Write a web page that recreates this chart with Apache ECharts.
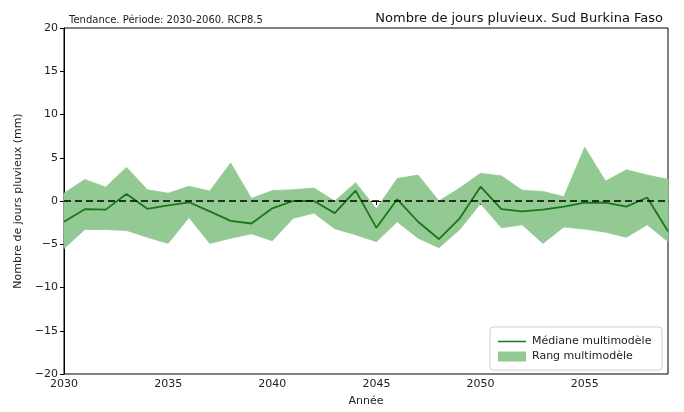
<!DOCTYPE html>
<html>
<head>
<meta charset="utf-8">
<script src="https://cdn.jsdelivr.net/npm/echarts@6/dist/echarts.min.js"></script>
<style>
html,body{margin:0;padding:0;background:#fff;}
#chart{width:684px;height:412px;}
</style>
</head>
<body>
<div id="chart"></div>
<script>
const years = [2030,2031,2032,2033,2034,2035,2036,2037,2038,2039,2040,2041,2042,2043,2044,2045,2046,2047,2048,2049,2050,2051,2052,2053,2054,2055,2056,2057,2058,2059];
const median = [-2.4,-0.95,-1.0,0.8,-0.9,-0.5,-0.15,-1.2,-2.3,-2.6,-0.85,0.0,0.0,-1.4,1.2,-3.1,0.2,-2.4,-4.4,-2.0,1.65,-0.95,-1.2,-1.0,-0.65,-0.2,-0.2,-0.65,0.4,-3.5];
const upper = [0.9,2.5,1.6,3.9,1.3,0.9,1.7,1.15,4.4,0.3,1.2,1.3,1.5,0.0,2.1,-0.9,2.6,3.0,0.0,1.5,3.2,2.9,1.25,1.1,0.5,6.2,2.3,3.6,3.0,2.5];
const lower = [-5.5,-3.3,-3.3,-3.4,-4.2,-4.9,-1.9,-4.9,-4.3,-3.8,-4.6,-2.0,-1.4,-3.2,-3.9,-4.7,-2.4,-4.3,-5.4,-3.3,-0.3,-3.1,-2.75,-4.9,-3.0,-3.25,-3.6,-4.2,-2.75,-4.7];
const yTicks = [-20,-15,-10,-5,0,5,10,15,20];
const xTicks = [2030,2035,2040,2045,2050,2055];

const bandColor = '#93c993';
const lineColor = '#1b761b';
const font = 'DejaVu Sans';

const chart = echarts.init(document.getElementById('chart'));
chart.setOption({
  animation: false,
  textStyle: {fontFamily: font},
  title: [
    {text: 'Tendance. Période: 2030-2060. RCP8.5', left: 64, top: 10,
     textStyle: {fontFamily: font, fontSize: 10, fontWeight: 'normal', color: '#222'}},
    {text: 'Nombre de jours pluvieux. Sud Burkina Faso', right: 16, top: 7,
     textStyle: {fontFamily: font, fontSize: 13, fontWeight: 'normal', color: '#111'}}
  ],
  grid: {left: 64, right: 16, top: 28, bottom: 36, show: true, borderColor: '#000', borderWidth: 1, backgroundColor: 'transparent'},
  graphic: [{
    type: 'rect', z: 50, silent: true,
    shape: {x: 490, y: 327, width: 172, height: 43, r: 3},
    style: {fill: '#fff', stroke: '#d0d0d0', lineWidth: 1}
  }],
  legend: [
    {
      left: 498, top: 336, padding: 0, itemGap: 0, itemWidth: 28, itemHeight: 1.5,
      icon: 'rect', z: 60,
      textStyle: {fontFamily: font, fontSize: 11, color: '#222', padding: [0, 0, 0, 1]},
      data: [{name: 'Médiane multimodèle', icon: 'rect', itemStyle: {color: lineColor}}]
    },
    {
      left: 498, top: 351, padding: 0, itemGap: 0, itemWidth: 28, itemHeight: 10,
      icon: 'rect', z: 60,
      textStyle: {fontFamily: font, fontSize: 11, color: '#222', padding: [0, 0, 0, 1]},
      data: [{name: 'Rang multimodèle', icon: 'rect', itemStyle: {color: bandColor}}]
    }
  ],
  xAxis: {
    type: 'value', min: 2030, max: 2059, interval: 5,
    name: 'Année', nameLocation: 'middle', nameGap: 22,
    nameTextStyle: {fontFamily: font, fontSize: 11, color: '#222'},
    axisLine: {show: true, lineStyle: {color: '#000'}},
    axisTick: {show: true, length: 4, lineStyle: {color: '#000'}},
    axisLabel: {fontFamily: font, fontSize: 11, color: '#222', showMaxLabel: false, margin: 5,
      formatter: v => (xTicks.indexOf(v) >= 0 ? String(v) : '')},
    splitLine: {show: false}
  },
  yAxis: {
    type: 'value', min: -20, max: 20, interval: 5,
    name: 'Nombre de jours pluvieux (mm)', nameLocation: 'middle', nameGap: 38,
    nameTextStyle: {fontFamily: font, fontSize: 11, color: '#222'},
    axisLine: {show: true, lineStyle: {color: '#000'}},
    axisTick: {show: true, length: 4, lineStyle: {color: '#000'}},
    axisLabel: {fontFamily: font, fontSize: 11, color: '#222', margin: 6,
      formatter: v => (yTicks.indexOf(v) >= 0 ? String(v).replace('-', '\u2212') : '')},
    splitLine: {show: false}
  },
  series: [
    {
      name: 'Rang multimodèle', type: 'custom', z: 1, silent: true,
      itemStyle: {color: bandColor},
      data: years.map((y, i) => [y, lower[i], upper[i]]),
      encode: {x: 0, y: [1, 2]},
      renderItem: function (params, api) {
        if (params.dataIndex !== 0) return null;
        const pts = [];
        for (let i = 0; i < years.length; i++) pts.push(api.coord([years[i], upper[i]]));
        for (let i = years.length - 1; i >= 0; i--) pts.push(api.coord([years[i], lower[i]]));
        return {
          type: 'polygon',
          shape: {points: pts},
          style: {fill: bandColor, stroke: bandColor, lineWidth: 0.8}
        };
      }
    },
    {
      name: 'Médiane multimodèle', type: 'line',
      data: years.map((y, i) => [y, median[i]]),
      symbol: 'none', itemStyle: {color: lineColor},
      lineStyle: {width: 1.8, color: lineColor}, z: 3,
      markLine: {
        silent: true, symbol: 'none', label: {show: false},
        lineStyle: {color: '#000', type: [7, 4], width: 1.6},
        data: [{yAxis: 0}]
      }
    }
  ]
});
</script>
</body>
</html>
